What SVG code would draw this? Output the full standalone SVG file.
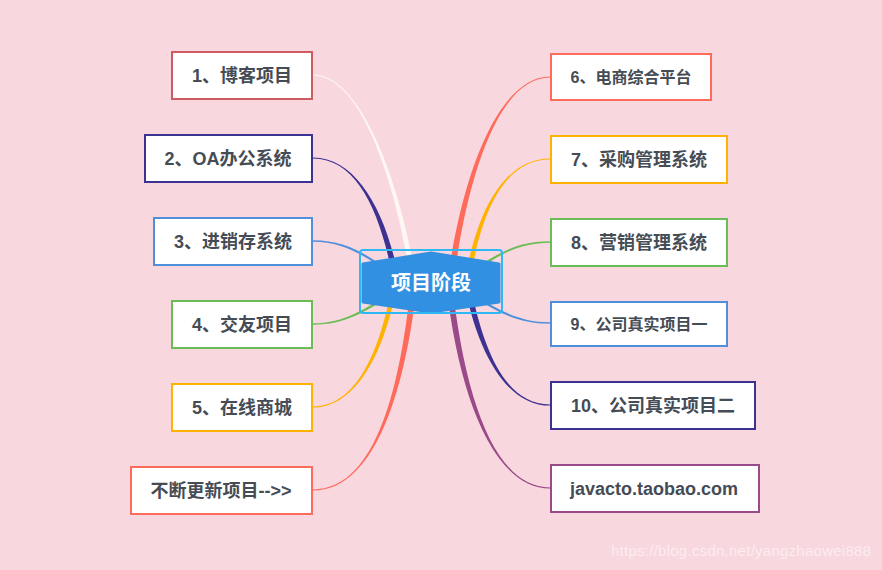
<svg xmlns="http://www.w3.org/2000/svg" width="882" height="570" viewBox="0 0 882 570">
<style>
.box{fill:#ffffff;stroke-width:2}
.t{font-family:"Liberation Sans","Noto Sans CJK SC",sans-serif;fill:#454c55;text-anchor:middle}
.b{font-size:18px;font-weight:bold}
.n{font-size:16px;font-weight:bold}
</style>
<rect width="882" height="570" fill="#f8d7df"/>
<g id="connectors">
  <path fill="#fff8f2" d="M313,74.4 C365,74.4 404.6,200 416.6,285 L411.4,285 C399.4,200 365,75.6 313,75.6 Z"/>
  <path fill="#3d3192" d="M313,157.4 C358,157.4 388,215 400,285 L394,285 C382,215 358,158.6 313,158.6 Z"/>
  <path fill="#4f8fdc" d="M313,240.3 C345,240.3 365,253.5 390,270.5 L390,273.5 C365,256.5 345,241.7 313,241.7 Z"/>
  <path fill="#6abd55" d="M313,323.3 C345,323.3 365,308.5 390,293.5 L390,296.5 C365,311.5 345,324.7 313,324.7 Z"/>
  <path fill="#ffb300" d="M313,407.6 C355,407.6 384.5,355 397.5,283 L392.5,283 C379.5,355 355,406.4 313,406.4 Z"/>
  <path fill="#ff6b5b" d="M313,490.6 C378,490.6 407,380 417,283 L411,283 C401,380 378,489.4 313,489.4 Z"/>
  <path fill="#ff6b5b" d="M550,76.4 C500,76.4 462,170 447,285 L453,285 C468,170 500,77.6 550,77.6 Z"/>
  <path fill="#ffb300" d="M550,158.4 C505,158.4 475.5,210 464.5,285 L469.5,285 C480.5,210 505,159.6 550,159.6 Z"/>
  <path fill="#6abd55" d="M550,241.3 C517,241.3 497,253.5 472,270.5 L472,273.5 C497,256.5 517,242.7 550,242.7 Z"/>
  <path fill="#4f8fdc" d="M550,322.3 C517,322.3 497,308.5 472,293.5 L472,296.5 C497,311.5 517,323.7 550,323.7 Z"/>
  <path fill="#3d3192" d="M550,405.6 C505,405.6 477,350 464,283 L470,283 C483,350 505,404.4 550,404.4 Z"/>
  <path fill="#9a4a88" d="M550,488.6 C495,488.6 459,400 446,283 L452,283 C465,400 495,487.4 550,487.4 Z"/>
</g>
<g id="center">
  <polygon points="363,264 431,253 499,264 499,302 431,312 363,302" fill="#3190e1" stroke="#3190e1" stroke-width="3" stroke-linejoin="round"/>
  <rect x="360" y="250" width="142" height="63" rx="3" fill="none" stroke="#2fb8f6" stroke-width="2"/>
  <text x="431" y="290" font-family="'Liberation Sans','Noto Sans CJK SC',sans-serif" font-size="20" font-weight="bold" fill="#ffffff" text-anchor="middle">项目阶段</text>
</g>
<g id="n1"><rect class="box" x="172" y="52" width="140" height="47" stroke="#cf5a5f"/><text class="t b" x="242" y="82">1、博客项目</text></g>
<g id="n2"><rect class="box" x="145" y="135" width="167" height="47" stroke="#3d3192"/><text class="t b" x="228" y="165">2、OA办公系统</text></g>
<g id="n3"><rect class="box" x="154" y="218" width="158" height="47" stroke="#4f8fdc"/><text class="t b" x="233" y="248">3、进销存系统</text></g>
<g id="n4"><rect class="box" x="172" y="301" width="140" height="47" stroke="#6abd55"/><text class="t b" x="242" y="331">4、交友项目</text></g>
<g id="n5"><rect class="box" x="172" y="384" width="140" height="47" stroke="#ffb300"/><text class="t b" x="242" y="414">5、在线商城</text></g>
<g id="n6l"><rect class="box" x="131" y="467" width="181" height="47" stroke="#ff6b5b"/><text class="t b" x="221" y="497">不断更新项目--&gt;&gt;</text></g>
<g id="n6"><rect class="box" x="551" y="54" width="160" height="46" stroke="#ff6b5b"/><text class="t n" x="631" y="83">6、电商综合平台</text></g>
<g id="n7"><rect class="box" x="551" y="136" width="176" height="47" stroke="#ffb300"/><text class="t b" x="639" y="166">7、采购管理系统</text></g>
<g id="n8"><rect class="box" x="551" y="219" width="176" height="47" stroke="#6abd55"/><text class="t b" x="639" y="249">8、营销管理系统</text></g>
<g id="n9"><rect class="box" x="551" y="302" width="176" height="44" stroke="#4f8fdc"/><text class="t n" x="639" y="330">9、公司真实项目一</text></g>
<g id="n10"><rect class="box" x="551" y="382" width="204" height="47" stroke="#3d3192"/><text class="t b" x="653" y="412">10、公司真实项目二</text></g>
<g id="n11"><rect class="box" x="551" y="465" width="208" height="47" stroke="#9a4a88"/><text class="t b" x="654" y="495">javacto.taobao.com</text></g>
<text x="611" y="556" font-family="'Liberation Sans',sans-serif" font-size="15" fill="#ffffff" opacity="0.55" textLength="260">https://blog.csdn.net/yangzhaowei888</text>
</svg>
